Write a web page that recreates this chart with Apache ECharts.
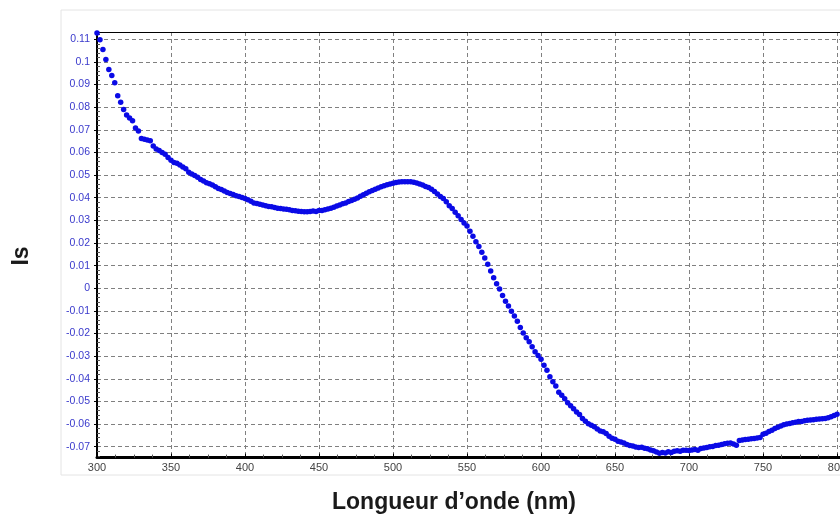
<!DOCTYPE html>
<html>
<head>
<meta charset="utf-8">
<script src="https://cdn.jsdelivr.net/npm/echarts@6/dist/echarts.min.js"></script>
<style>html,body{margin:0;padding:0;background:#fff;}#c{width:840px;height:516px;}</style>
</head>
<body>
<div id="c"></div>
<script>
const wavelengths = [
300,302,304,306,308,310,312,314,316,318,320,322,324,326,328,330,332,334,336,338,
340,342,344,346,348,350,352,354,356,358,360,362,364,366,368,370,372,374,376,378,
380,382,384,386,388,390,392,394,396,398,400,402,404,406,408,410,412,414,416,418,
420,422,424,426,428,430,432,434,436,438,440,442,444,446,448,450,452,454,456,458,
460,462,464,466,468,470,472,474,476,478,480,482,484,486,488,490,492,494,496,498,
500,502,504,506,508,510,512,514,516,518,520,522,524,526,528,530,532,534,536,538,
540,542,544,546,548,550,552,554,556,558,560,562,564,566,568,570,572,574,576,578,
580,582,584,586,588,590,592,594,596,598,600,602,604,606,608,610,612,614,616,618,
620,622,624,626,628,630,632,634,636,638,640,642,644,646,648,650,652,654,656,658,
660,662,664,666,668,670,672,674,676,678,680,682,684,686,688,690,692,694,696,698,
700,702,704,706,708,710,712,714,716,718,720,722,724,726,728,730,732,734,736,738,
740,742,744,746,748,750,752,754,756,758,760,762,764,766,768,770,772,774,776,778,
780,782,784,786,788,790,792,794,796,798,800
];
const isValues = [
0.1128,0.1098,0.1055,0.1010,0.0966,0.0940,0.0908,0.0850,0.0822,0.0790,
0.0765,0.0752,0.0740,0.0708,0.0695,0.0662,0.0658,0.0655,0.0652,0.0628,
0.0615,0.0608,0.0600,0.0592,0.0578,0.0565,0.0556,0.0552,0.0545,0.0536,
0.0528,0.0512,0.0505,0.0498,0.0490,0.0480,0.0474,0.0466,0.0462,0.0456,
0.0448,0.0441,0.0436,0.0430,0.0423,0.0419,0.0414,0.0409,0.0405,0.0401,
0.0397,0.0391,0.0384,0.0377,0.0374,0.0371,0.0368,0.0365,0.0361,0.0360,
0.0357,0.0354,0.0352,0.0350,0.0349,0.0347,0.0344,0.0342,0.0340,0.0339,
0.0338,0.0338,0.0339,0.0341,0.0339,0.0343,0.0344,0.0347,0.0350,0.0354,
0.0358,0.0363,0.0368,0.0373,0.0377,0.0383,0.0388,0.0393,0.0399,0.0406,
0.0413,0.0420,0.0426,0.0432,0.0437,0.0443,0.0448,0.0453,0.0457,0.0461,
0.0464,0.0467,0.0469,0.0470,0.0471,0.0471,0.0470,0.0468,0.0465,0.0461,
0.0456,0.0450,0.0445,0.0437,0.0427,0.0416,0.0405,0.0396,0.0382,0.0365,
0.0352,0.0336,0.0320,0.0304,0.0288,0.0275,0.0252,0.0230,0.0205,0.0185,
0.0159,0.0134,0.0106,0.0076,0.0047,0.0020,-0.0003,-0.0032,-0.0057,-0.0078,
-0.0101,-0.0122,-0.0146,-0.0173,-0.0198,-0.0219,-0.0236,-0.0258,-0.0280,-0.0297,
-0.0314,-0.0340,-0.0362,-0.0391,-0.0413,-0.0432,-0.0459,-0.0473,-0.0488,-0.0506,
-0.0519,-0.0532,-0.0547,-0.0558,-0.0575,-0.0587,-0.0598,-0.0605,-0.0612,-0.0622,
-0.0630,-0.0634,-0.0641,-0.0654,-0.0662,-0.0667,-0.0676,-0.0679,-0.0683,-0.0690,
-0.0695,-0.0697,-0.0701,-0.0703,-0.0702,-0.0707,-0.0709,-0.0714,-0.0718,-0.0723,
-0.0729,-0.0726,-0.0728,-0.0722,-0.0726,-0.0720,-0.0718,-0.0720,-0.0716,-0.0715,
-0.0717,-0.0714,-0.0712,-0.0716,-0.0708,-0.0706,-0.0703,-0.0700,-0.0699,-0.0694,
-0.0693,-0.0690,-0.0687,-0.0685,-0.0683,-0.0688,-0.0693,-0.0672,-0.0670,-0.0668,
-0.0667,-0.0665,-0.0664,-0.0661,-0.0659,-0.0645,-0.0640,-0.0633,-0.0627,-0.0620,
-0.0614,-0.0608,-0.0603,-0.0600,-0.0597,-0.0594,-0.0592,-0.0589,-0.0588,-0.0585,
-0.0583,-0.0582,-0.0581,-0.0579,-0.0578,-0.0576,-0.0575,-0.0572,-0.0568,-0.0562,
-0.0556
];
const xTicks = [300,350,400,450,500,550,600,650,700,750,800];
const xMinorTicks = [312.5,325,337.5,362.5,375,387.5,412.5,425,437.5,462.5,475,487.5,512.5,525,537.5,562.5,575,587.5,612.5,625,637.5,662.5,675,687.5,712.5,725,737.5,762.5,775,787.5];
const yTicks = [-0.07,-0.06,-0.05,-0.04,-0.03,-0.02,-0.01,0,0.01,0.02,0.03,0.04,0.05,0.06,0.07,0.08,0.09,0.1,0.11];
const yMinorTicks = [-0.074,-0.072,-0.068,-0.066,-0.064,-0.062,-0.058,-0.056,-0.054,-0.052,-0.048,-0.046,-0.044,-0.042,-0.038,-0.036,-0.034,-0.032,-0.028,-0.026,-0.024,-0.022,-0.018,-0.016,-0.014,-0.012,-0.008,-0.006,-0.004,-0.002,0.002,0.004,0.006,0.008,0.012,0.014,0.016,0.018,0.022,0.024,0.026,0.028,0.032,0.034,0.036,0.038,0.042,0.044,0.046,0.048,0.052,0.054,0.056,0.058,0.062,0.064,0.066,0.068,0.072,0.074,0.076,0.078,0.082,0.084,0.086,0.088,0.092,0.094,0.096,0.098,0.102,0.104,0.106,0.108,0.112];
const xMin = 300, xMax = 802, yMin = -0.0748, yMax = 0.1132;

const fmtY = v => {
  const r = Math.round(v * 100) / 100;
  return String(r);
};

const chart = echarts.init(document.getElementById('c'), null, {renderer: 'canvas'});
const points = wavelengths.map((w, i) => [w, isValues[i]]);
const gridDash = {color: '#808080', type: [4, 3], width: 1};
chart.setOption({
  animation: false,
  backgroundColor: '#ffffff',
  graphic: [
    {type: 'rect', shape: {x: 61, y: 10, width: 790, height: 465}, style: {fill: 'none', stroke: '#e4e4e4', lineWidth: 1}, z: -10},
    {type: 'text', x: 454, y: 491, style: {text: 'Longueur d\u2019onde (nm)', font: 'bold 23px "Liberation Sans", Arial, sans-serif', fill: '#1a1a1a', align: 'center', verticalAlign: 'top'}},
    {type: 'text', x: 22, y: 256, rotation: Math.PI / 2, style: {text: 'Is', font: 'bold 23px "Liberation Sans", Arial, sans-serif', fill: '#1a1a1a', align: 'center', verticalAlign: 'middle'}}
  ],
  grid: {left: 97, right: 0, top: 32, bottom: 58.4, containLabel: false, outerBoundsMode: 'none'},
  xAxis: [
    {
      type: 'value', min: xMin, max: xMax, position: 'bottom',
      axisLine: {show: true, onZero: false, lineStyle: {color: '#000', width: 3}},
      axisTick: {show: true, inside: true, length: 4, lineStyle: {color: '#000'}, customValues: xTicks},
      axisLabel: {show: true, customValues: xTicks, margin: 5, color: '#444', fontSize: 11, fontFamily: '"Liberation Sans", Arial, sans-serif'},
      splitLine: {show: true, lineStyle: gridDash}
    },
    {
      type: 'value', min: xMin, max: xMax, position: 'top',
      axisLine: {show: true, onZero: false, lineStyle: {color: '#000', width: 1}},
      axisTick: {show: false}, axisLabel: {show: false}, splitLine: {show: false}
    },
    {
      type: 'value', min: xMin, max: xMax, position: 'bottom',
      axisLine: {show: false, onZero: false},
      axisTick: {show: true, inside: true, length: 3, lineStyle: {color: '#555'}, customValues: xMinorTicks},
      axisLabel: {show: false}, splitLine: {show: false}
    }
  ],
  yAxis: [
    {
      type: 'value', min: yMin, max: yMax, position: 'left',
      axisLine: {show: true, onZero: false, lineStyle: {color: '#000', width: 2}},
      axisTick: {show: true, inside: false, length: 3, lineStyle: {color: '#000'}, customValues: yTicks},
      axisLabel: {show: true, customValues: yTicks, margin: 7, color: '#3a3acc', fontSize: 10.5, fontFamily: '"Liberation Sans", Arial, sans-serif', formatter: fmtY},
      splitLine: {show: true, lineStyle: gridDash}
    },
    {
      type: 'value', min: yMin, max: yMax, position: 'left',
      axisLine: {show: false, onZero: false},
      axisTick: {show: true, inside: true, length: 3, lineStyle: {color: '#555'}, customValues: yMinorTicks},
      axisLabel: {show: false}, splitLine: {show: false}
    }
  ],
  series: [{
    type: 'scatter',
    xAxisIndex: 0, yAxisIndex: 0,
    data: points,
    symbol: 'circle',
    symbolSize: 5.5,
    itemStyle: {color: '#0a0ae6', opacity: 1},
    clip: true
  }]
});
</script>
</body>
</html>
